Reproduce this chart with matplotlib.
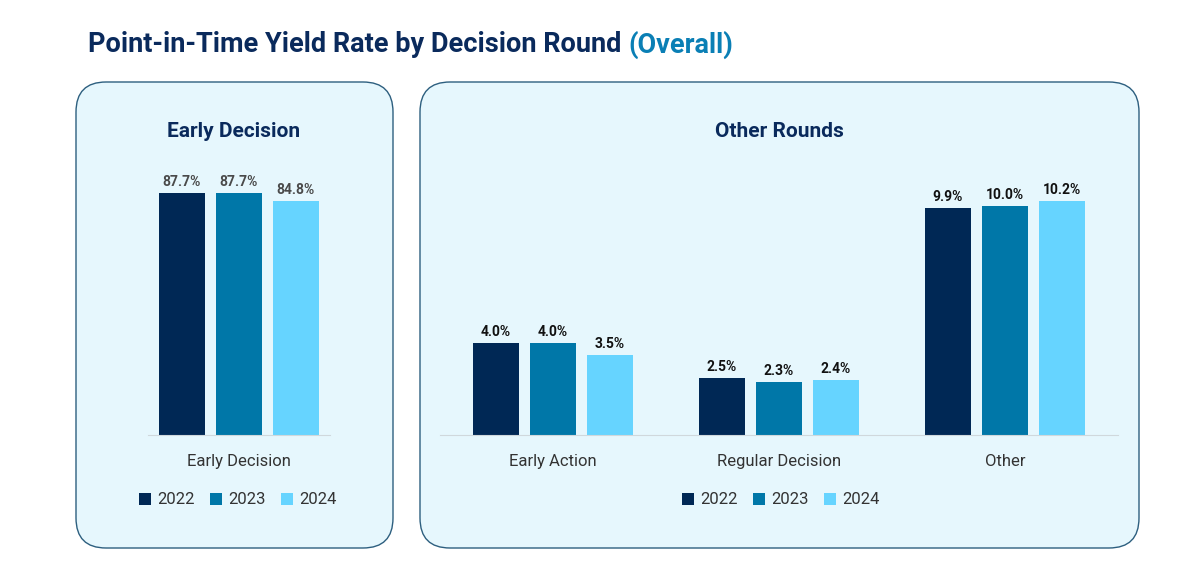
import matplotlib.pyplot as plt
from matplotlib.patches import FancyBboxPatch, Patch
import numpy as np

plt.rcParams['font.family'] = ['Roboto', 'DejaVu Sans']

years = ['2022', '2023', '2024']
colors = ['#002855', '#0077a8', '#66d4ff']

ed_cats = ['Early Decision']
ed_vals = [[87.7], [87.7], [84.8]]

other_cats = ['Early Action', 'Regular Decision', 'Other']
other_vals = [[4.0, 2.5, 9.9], [4.0, 2.3, 10.0], [3.5, 2.4, 10.2]]

W, H = 1200, 583
fig = plt.figure(figsize=(12, 5.83), dpi=100)


def px(x0, y0, x1, y1):
    return [x0 / W, 1 - y1 / H, (x1 - x0) / W, (y1 - y0) / H]


# panels
for x0, x1 in [(76, 393), (420, 1139)]:
    box = FancyBboxPatch((x0 / W, 1 - 548 / H), (x1 - x0) / W, (548 - 82) / H,
                         boxstyle="round,pad=0,rounding_size=0.025",
                         transform=fig.transFigure, facecolor='#e6f7fd',
                         edgecolor='#2d5f7f', linewidth=1.0, mutation_aspect=W / H,
                         zorder=0)
    fig.patches.append(box)

fig.text(88 / W, 1 - 45 / H, 'Point-in-Time Yield Rate by Decision Round ',
         fontsize=19.5, fontweight='bold', color='#0a2a5c', va='center')
t = fig.texts[-1]
fig.canvas.draw()
bb = t.get_window_extent()
fig.text(bb.x1 / W, 1 - 45 / H, '(Overall)', fontsize=19.5, fontweight='bold',
         color='#0a7fb5', va='center')


def draw(ax, cats, vals, width, off, ymax, lblcolor):
    ax.set_zorder(3)
    x = np.arange(len(cats))
    for i, (v, c) in enumerate(zip(vals, colors)):
        bars = ax.bar(x + (i - 1) * off, v, width, color=c)
        for b, val in zip(bars, v):
            ax.text(b.get_x() + b.get_width() / 2, val + ymax * 0.015, f'{val:.1f}%',
                    ha='center', va='bottom', fontsize=10, fontweight='bold',
                    color=lblcolor)
    ax.set_ylim(0, ymax)
    ax.set_xlim(-0.5, len(cats) - 0.5)
    ax.set_facecolor('none')
    for s in ['top', 'right', 'left']:
        ax.spines[s].set_visible(False)
    ax.spines['bottom'].set_color('#d0d8dc')
    ax.set_yticks([])
    ax.set_xticks(x)
    ax.set_xticklabels(cats, fontsize=12, color='#333333')
    ax.tick_params(axis='x', length=0, pad=14)


ax1 = fig.add_axes(px(148, 170, 330, 435))
draw(ax1, ed_cats, ed_vals, 0.253, 0.313, 96.0, '#4a4a4a')
ax2 = fig.add_axes(px(440, 170, 1118, 435))
draw(ax2, other_cats, other_vals, 0.203, 0.252, 11.57, '#111111')

fig.text(234 / W, 1 - 132 / H, 'Early Decision', fontsize=15, fontweight='bold',
         color='#0a2a5c', ha='center', va='center', zorder=4)
fig.text(779 / W, 1 - 132 / H, 'Other Rounds', fontsize=15, fontweight='bold',
         color='#0a2a5c', ha='center', va='center', zorder=4)

handles = [Patch(facecolor=c, label=y) for c, y in zip(colors, years)]
for cx in [238, 781]:
    leg = fig.legend(handles=handles, loc='center', bbox_to_anchor=(cx / W, 1 - 500 / H),
                     ncol=3, frameon=False, fontsize=12, handlelength=0.7,
                     handleheight=0.7, handletextpad=0.4, columnspacing=0.9,
                     labelcolor='#333333')
    leg.set_zorder(4)

fig.savefig('out.png', dpi=100, facecolor='white')
